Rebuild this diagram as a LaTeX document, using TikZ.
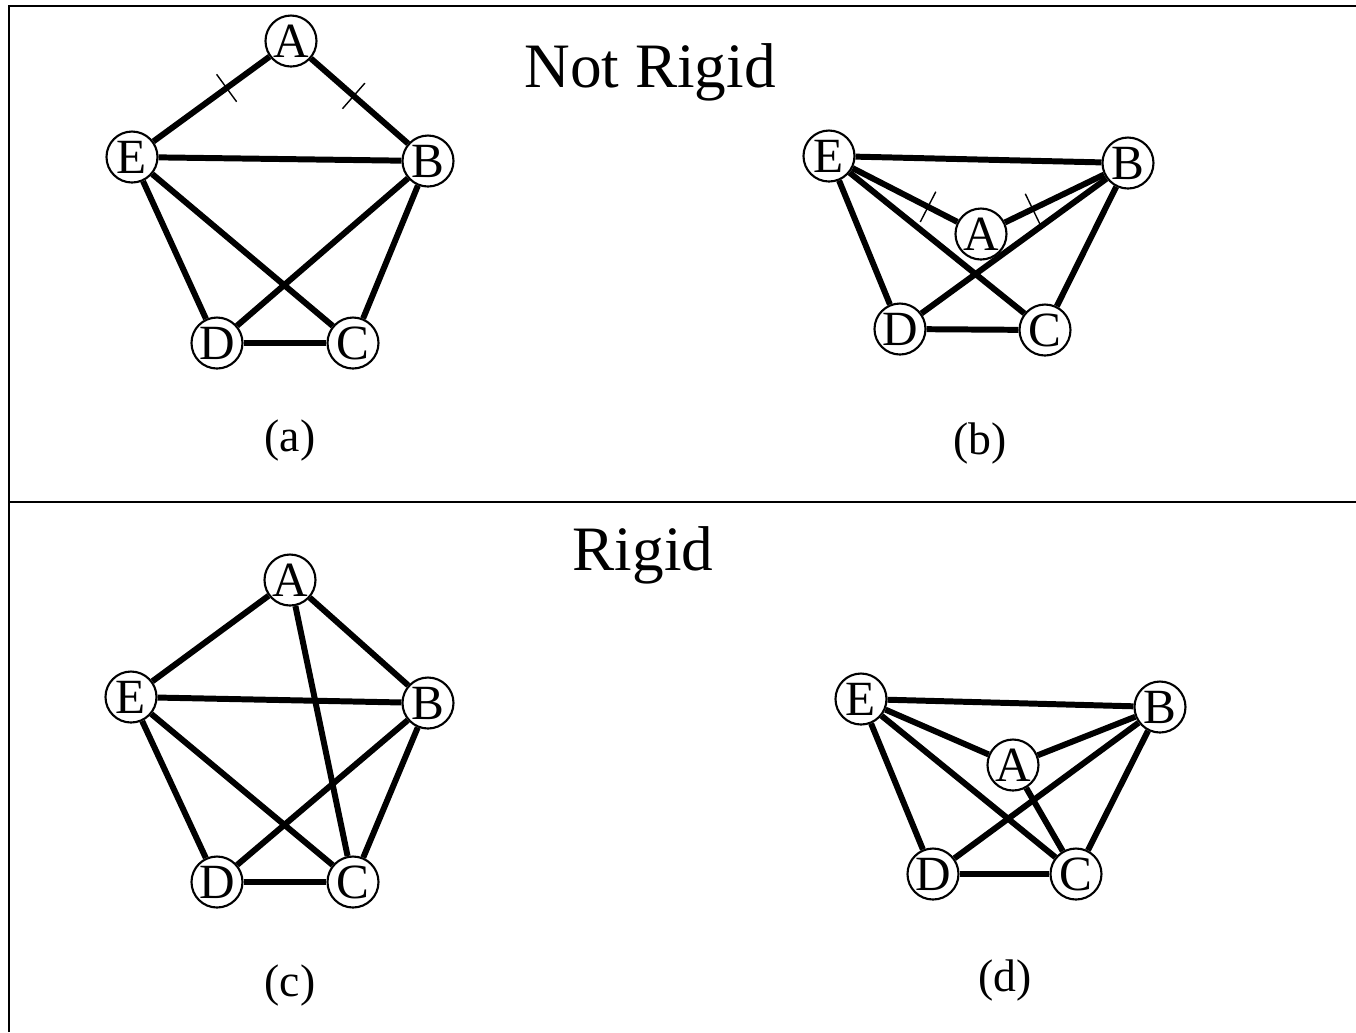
\documentclass[tikz,border=0pt]{standalone}
\usepackage{fontspec}
\setmainfont{Liberation Serif}
\usetikzlibrary{calc}

\begin{document}
\begin{tikzpicture}[
  vtx/.style={draw, circle, fill=white, minimum size=0.51cm, inner sep=0pt, line width=0.6pt, font=\fontsize{14}{14}\selectfont},
  edge/.style={line width=1.7pt},
  tick/.style={line width=0.4pt},
  frame/.style={line width=0.7pt},
  title/.style={font=\fontsize{18}{20}\selectfont},
  caption/.style={font=\fontsize{13}{15}\selectfont}
]
\useasboundingbox (0,0) rectangle (13.56,-10.32);

% Rahmen
\draw[frame] (0.09,-10.32) -- (0.09,-0.06) -- (13.56,-0.06);
\draw[frame] (0.09,-5.02) -- (13.56,-5.02);

% Titel und Unterschriften
\node[title] (notrigid) at (6.50,-0.72) {Not Rigid};
\node[title] (rigid)    at (6.43,-5.55) {Rigid};
\node[caption] (capa) at (2.90,-4.40) {(a)};
\node[caption] (capb) at (9.80,-4.43) {(b)};
\node[caption] (capc) at (2.90,-9.85) {(c)};
\node[caption] (capd) at (10.05,-9.80) {(d)};

% (a)
\node[vtx] (A1) at (2.91,-0.41) {A};
\node[vtx] (E1) at (1.32,-1.57) {E};
\node[vtx] (B1) at (4.28,-1.61) {B};
\node[vtx] (D1) at (2.17,-3.43) {D};
\node[vtx] (C1) at (3.53,-3.43) {C};
\draw[edge] (A1) -- coordinate[pos=0.37] (ta1) (E1);
\draw[edge] (A1) -- coordinate[pos=0.44] (tb1) (B1);
\draw[edge] (E1) -- (B1);
\draw[edge] (E1) -- (D1);
\draw[edge] (E1) -- (C1);
\draw[edge] (B1) -- (D1);
\draw[edge] (B1) -- (C1);
\draw[edge] (D1) -- (C1);
\draw[tick] ($(ta1)!0.17cm!90:(A1)$) -- ($(ta1)!0.17cm!-90:(A1)$);
\draw[tick] ($(tb1)!0.17cm!90:(A1)$) -- ($(tb1)!0.17cm!-90:(A1)$);

% (b)
\node[vtx] (E2) at (8.29,-1.56) {E};
\node[vtx] (B2) at (11.28,-1.63) {B};
\node[vtx] (A2) at (9.81,-2.34) {A};
\node[vtx] (D2) at (9.00,-3.29) {D};
\node[vtx] (C2) at (10.45,-3.30) {C};
\draw[edge] (E2) -- (B2);
\draw[edge] (A2) -- coordinate[pos=0.28] (ta2) (E2);
\draw[edge] (A2) -- coordinate[pos=0.28] (tb2) (B2);
\draw[edge] (E2) -- (D2);
\draw[edge] (E2) -- (C2);
\draw[edge] (B2) -- (D2);
\draw[edge] (B2) -- (C2);
\draw[edge] (D2) -- (C2);
\draw[tick] ($(ta2)!0.17cm!90:(A2)$) -- ($(ta2)!0.17cm!-90:(A2)$);
\draw[tick] ($(tb2)!0.17cm!90:(A2)$) -- ($(tb2)!0.17cm!-90:(A2)$);

% (c)
\node[vtx] (A3) at (2.90,-5.80) {A};
\node[vtx] (E3) at (1.31,-6.97) {E};
\node[vtx] (B3) at (4.28,-7.03) {B};
\node[vtx] (D3) at (2.17,-8.82) {D};
\node[vtx] (C3) at (3.53,-8.82) {C};
\draw[edge] (A3) -- (E3);
\draw[edge] (A3) -- (B3);
\draw[edge] (A3) -- (C3);
\draw[edge] (E3) -- (B3);
\draw[edge] (E3) -- (D3);
\draw[edge] (E3) -- (C3);
\draw[edge] (B3) -- (D3);
\draw[edge] (B3) -- (C3);
\draw[edge] (D3) -- (C3);

% (d)
\node[vtx] (E4) at (8.61,-6.99) {E};
\node[vtx] (B4) at (11.60,-7.07) {B};
\node[vtx] (A4) at (10.13,-7.65) {A};
\node[vtx] (D4) at (9.33,-8.74) {D};
\node[vtx] (C4) at (10.76,-8.74) {C};
\draw[edge] (E4) -- (B4);
\draw[edge] (E4) -- (A4);
\draw[edge] (A4) -- (B4);
\draw[edge] (A4) -- (C4);
\draw[edge] (E4) -- (D4);
\draw[edge] (E4) -- (C4);
\draw[edge] (B4) -- (D4);
\draw[edge] (B4) -- (C4);
\draw[edge] (D4) -- (C4);
\end{tikzpicture}
\end{document}
